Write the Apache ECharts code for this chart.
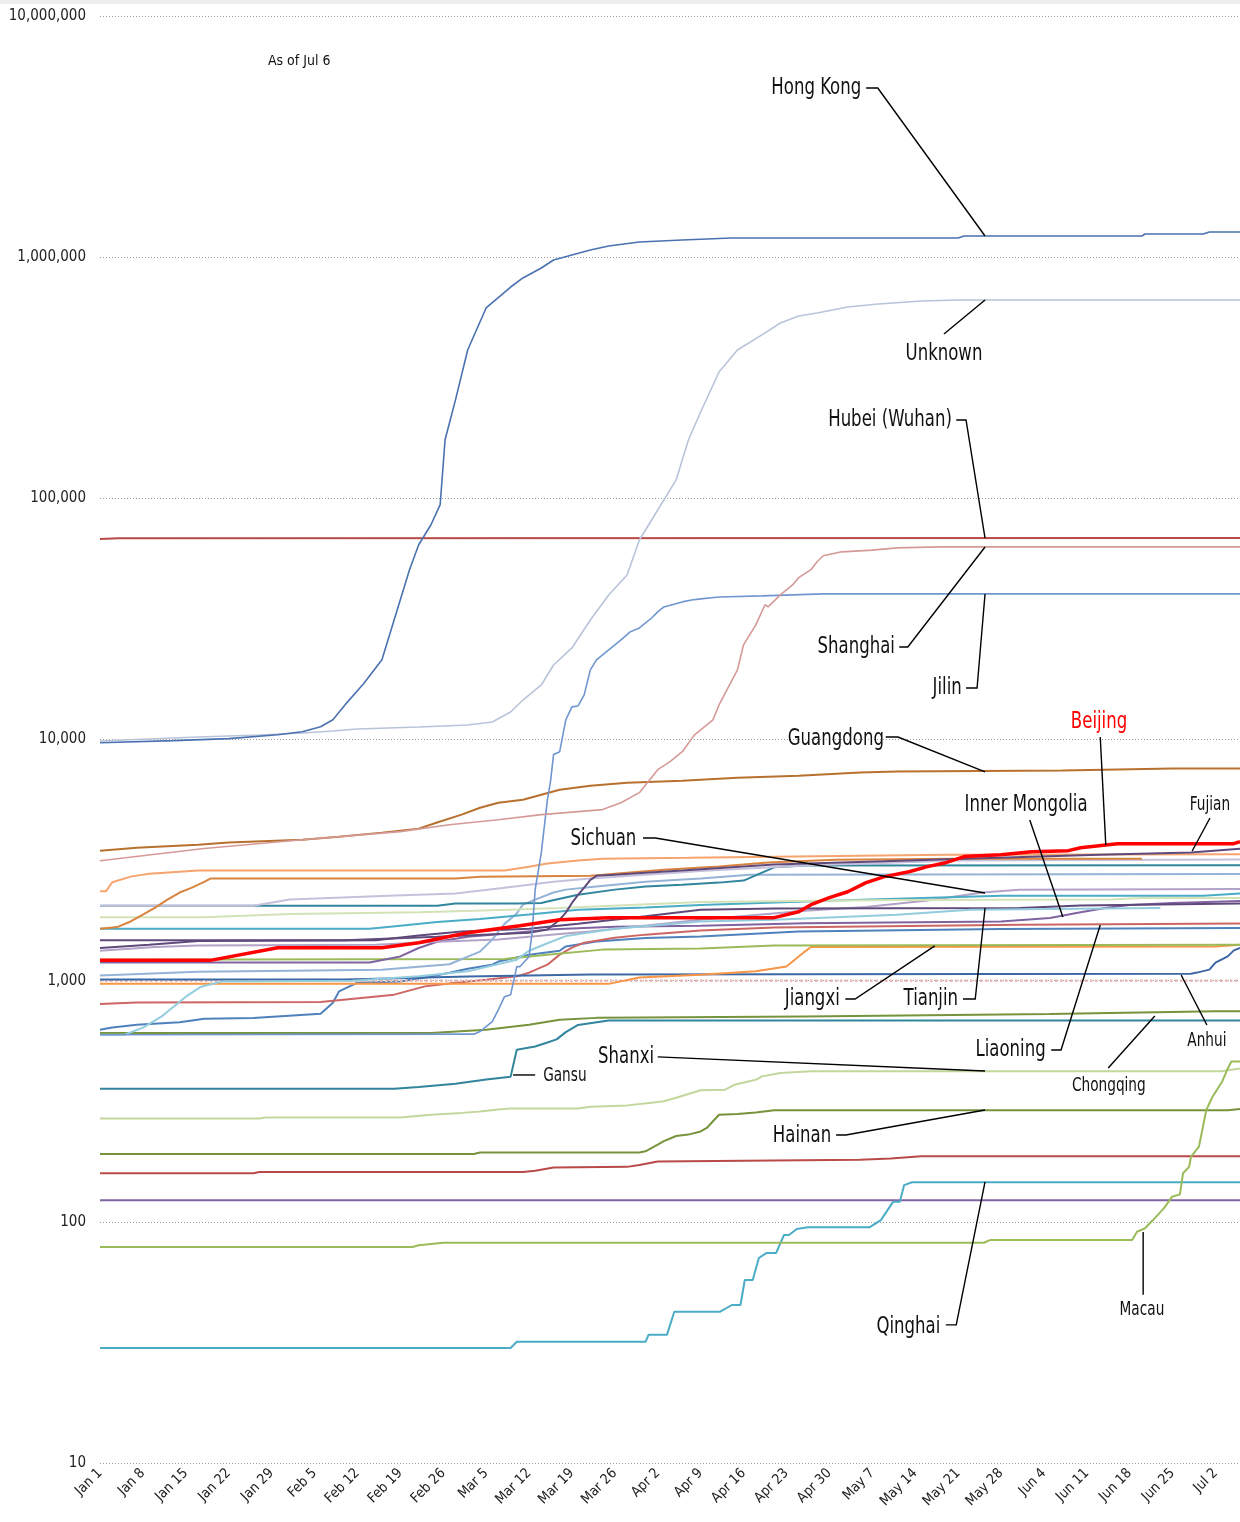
<!DOCTYPE html>
<html>
<head>
<meta charset="utf-8">
<script src="https://cdn.jsdelivr.net/npm/echarts@6/dist/echarts.min.js"></script>
<style>
html,body{margin:0;padding:0;background:#fff;}
#chart{width:1240px;height:1522px;}
</style>
</head>
<body>
<div id="chart"></div>
<script>
// ---- tick labels (x = day index from Jan 1) ----
const tickLabels = ['Jan 1','Jan 8','Jan 15','Jan 22','Jan 29','Feb 5','Feb 12','Feb 19','Feb 26','Mar 5','Mar 12','Mar 19','Mar 26','Apr 2','Apr 9','Apr 16','Apr 23','Apr 30','May 7','May 14','May 21','May 28','Jun 4','Jun 11','Jun 18','Jun 25','Jul 2'];
const lastDay = 186; // Jul 6

// ---- series values: [day, cumulative cases] ----
const hongKong = [[0,9700],[12,9890],[21,10080],[29,10470],[33,10770],[36,11300],[38,12080],[40,13950],[43,17030],[46,21420],[47.5,28520],[49,37970],[50.5,50580],[52,64200],[54,77700],[55.5,94100],[56.3,175000],[58,256000],[60,413000],[63,615600],[67,752000],[69,819800],[72,901700],[74,973400],[77,1021000],[80,1071000],[83,1113000],[88,1156000],[95,1178000],[103,1201000],[140,1201000],[141,1224000],[170,1224000],[170.5,1248000],[180,1248000],[181,1272000],[186,1272000]];
const unknown = [[0,9860],[16,10240],[26,10440],[33,10640],[38,10850],[42,11060],[52,11270],[60,11490],[64,11820],[67,13000],[69,14580],[72,16830],[74,20370],[77,23970],[80,31300],[83,39750],[86,48110],[88,67180],[91,89460],[94,119200],[96,174500],[98,228000],[101,334100],[104,412200],[108,475900],[111,533400],[114,570200],[117,586800],[122,621400],[127,639500],[134,658100],[140,664400],[186,664400]];
const hubei = [[0,67800],[3,68300],[186,68500]];
const shanghai = [[0,3140],[17,3530],[33,3842],[49,4150],[57,4430],[65,4650],[72,4880],[82,5120],[85,5470],[88,6020],[91,7500],[93,8090],[95,8900],[97,10450],[100,12060],[101,13910],[104,19440],[105,24700],[107,29870],[108.5,36200],[109,35500],[111,39770],[113,43750],[114,46900],[116,50600],[117,54600],[118,57800],[121,60000],[126,61000],[130,62300],[137,62900],[186,62900]];
const jilin = [[0,597],[61,600],[62,615],[64,676],[65,759],[66,858],[67,875],[68,1143],[68.5,1143],[70,1257],[70.5,1581],[71,2385],[72,3390],[73,5630],[73.5,6690],[74,8660],[75,8900],[76,12060],[77,13650],[78,13780],[79,15310],[80,19440],[81,21390],[82,22420],[83,23530],[85,25880],[86.5,27940],[88,29010],[90,31900],[91,33800],[92,35460],[95,37200],[96.5,37900],[98,38300],[101,39000],[108,39400],[118,40150],[186,40150]];
const guangdong = [[0,3460],[6,3560],[16,3663],[21,3740],[33,3842],[39,3950],[46,4110],[52,4270],[55,4530],[59,4880],[62,5210],[65,5470],[69,5627],[72,5900],[75,6190],[80,6430],[86,6620],[95,6750],[104,6940],[114,7080],[124,7290],[130,7360],[157,7430],[175,7580],[186,7580]];
const beijing = [[0,1214],[18,1214],[29,1370],[46,1370],[52,1437],[60,1581],[68.5,1690],[75,1790],[83,1825],[110,1825],[114,1930],[116,2066],[119,2210],[122,2337],[125,2550],[128,2700],[132,2830],[135,2970],[138,3085],[141,3270],[147,3330],[152,3425],[158,3460],[160,3560],[163,3630],[166,3700],[185,3700],[186,3770]];
const fujian = [[0,1470],[40,1470],[55,1520],[70,1580],[73,1630],[75,1790],[76,1915],[77,2100],[78,2270],[79,2430],[80,2620],[81,2720],[84,2750],[89,2800],[95,2860],[110,3030],[128,3130],[141,3200],[163,3330],[178,3400],[186,3520]];
const zhejiang = [[0,2350],[1,2350],[2,2560],[5,2700],[8,2775],[13,2830],[16,2860],[66,2860],[70,2970],[73,3060],[78,3150],[82,3200],[96,3230],[138,3330],[186,3340]];
const henan = [[0,1640],[2,1660],[3,1675],[5,1760],[7,1880],[9,2010],[11,2167],[13,2320],[15,2430],[17,2570],[18,2650],[58,2650],[62,2700],[80,2725],[82,2750],[92,2885],[101,2975],[109,3090],[120,3174],[139,3200],[170,3200]];
const shaanxi = [[0,2045],[25,2045],[31,2170],[47,2250],[58,2300],[66,2430],[74,2570],[80,2650],[98,2850],[115,3000],[140,3150],[186,3180]];
const shandong = [[0,2045],[55,2045],[58,2090],[68,2090],[72,2100],[73,2130],[78,2270],[84,2385],[89,2460],[95,2500],[101,2550],[105,2600],[110,2950],[115,3000],[186,3010]];
const hebei = [[0,1830],[17,1830],[31,1890],[52,1920],[64,1960],[75,2000],[98,2120],[130,2160],[165,2170],[170,2200],[186,2200]];
const jiangsu = [[0,1640],[44,1640],[49,1690],[55,1750],[62,1800],[70,1880],[78,1970],[89,2010],[98,2060],[120,2150],[147,2250],[180,2250],[186,2300]];
const yunnan = [[0,1050],[16,1090],[46,1110],[57,1170],[62,1320],[64,1480],[66,1720],[68,1900],[69,2066],[71,2167],[74,2320],[76,2385],[81,2460],[89,2570],[98,2650],[106,2750],[186,2770]];
const tianjin = [[0,597],[4,597],[7,639],[10,709],[12,780],[14,858],[16.5,944],[20,993],[41,1000],[52,1042],[60,1093],[68,1222],[70,1330],[73,1430],[76,1530],[84,1640],[98,1760],[110,1790],[130,1878],[142,1970],[173,2000]];
const heilongjiang = [[0,1365],[8,1410],[16,1460],[45,1470],[52,1540],[59,1600],[70,1640],[78,1720],[89,1850],[98,1970],[110,1990],[150,2000],[160,2050],[186,2090]];
const sichuan = [[0,1330],[9,1380],[16,1400],[45,1410],[55,1450],[65,1480],[75,1560],[80,1600],[98,1790],[115,1950],[125,2020],[135,2150],[144,2320],[150,2385],[186,2400]];
const innerMongolia = [[0,1190],[44,1190],[49,1260],[52,1366],[55,1450],[60,1520],[66,1565],[73,1628],[84,1675],[98,1690],[115,1730],[147,1760],[155,1820],[160,1920],[164,2000],[168,2060],[175,2100],[186,2140]];
const hunan = [[0,1222],[66,1230],[73,1282],[82,1345],[98,1360],[110,1400],[186,1410]];
const jiangxi = [[0,970],[83,970],[88,1030],[98,1059],[107,1093],[112,1145],[113,1201],[115,1320],[116,1380],[182,1387],[186,1410]];
const anhui = [[0,1010],[40,1010],[60,1040],[80,1060],[178,1068],[179,1080],[181,1111],[182,1187],[184,1261],[185,1335],[186,1366]];
const xinjiang = [[0,1000],[186,1000]];
const liaoning = [[0,800],[6,812],[36,815],[48,875],[53,947],[58,981],[63,1008],[68,1042],[70,1079],[73,1165],[75,1282],[77,1370],[79,1437],[84,1505],[89,1552],[98,1616],[110,1660],[150,1707],[186,1725]];
const guangxi = [[0,626],[2,640],[6,657],[13,672],[17,695],[25,700],[36,730],[38,810],[39,903],[42,981],[49,993],[54,1040],[57,1079],[60,1120],[64,1165],[65,1200],[70,1280],[75,1330],[76,1387],[81,1455],[89,1503],[98,1526],[114,1600],[147,1636],[186,1655]];
const chongqing = [[0,607],[54,607],[63,626],[70,657],[75,689],[81,701],[115,711],[155,728],[182,746],[186,746]];
const gansu = [[0,356],[48,356],[52,362],[58,374],[63,389],[67,400],[68,517],[71,533],[73,554],[74.5,571],[76,612],[78,655],[83,683],[186,683]];
const shanxi = [[0,268],[26,268],[27,271],[49,271],[54,278],[59,283],[62,287],[65,292],[67,295],[78,295],[80,300],[86,304],[90,312],[92,316],[94,327],[98,351],[102,353],[103.5,370],[107,388],[108,401],[111,414],[116,421],[183,421],[186,432]];
const hainan = [[0,191],[61,191],[62,194],[88,194],[89,196],[91,209],[92,216],[94,227],[96,230],[98,237],[99,245],[101,278],[104,280],[107,284],[110,290],[184,290],[186,294]];
const guizhou = [[0,159],[25,159],[26,161],[69,161],[71,163],[74,168],[86,169],[88,172],[91,178],[124,181],[129,183],[134,187],[186,187]];
const ningxia = [[0,123],[186,123]];
const qinghai = [[0,30],[67,30],[68,31.8],[89,31.8],[89.5,34],[92.5,34],[93.7,42.4],[101.2,42.4],[103.1,45.2],[104.5,45.2],[105.2,57.4],[106.5,57.4],[107.5,70.8],[108.7,74.2],[110.3,74.2],[111.6,88.2],[112.4,88.2],[113.7,93.4],[115.5,94.9],[125.6,95],[127.4,101.7],[129.4,121],[130.5,121],[131.2,142],[132.5,146],[186,146]];
const macau = [[0,78.6],[51,78.6],[52,80],[56,81.9],[144.2,81.9],[145.2,84],[168.4,84],[169.2,91],[170.5,94],[171.8,101.7],[173.6,114],[174.9,127],[176.2,130],[176.7,159],[177.7,169],[178,186],[179.3,205],[180.5,291],[181.4,326],[183.1,382],[183.9,427],[184.6,462],[186,462]];

// ---- styles (kept apart from the data) ----
const FONT = "'Liberation Sans Narrow','DejaVu Sans Condensed','Roboto Condensed','Arial Narrow',sans-serif";
const seriesDefs = [
  ['Ningxia', ningxia, '#8064a2', 2],
  ['Guizhou', guizhou, '#b94a48', 2],
  ['Hainan', hainan, '#77933c', 2],
  ['Shanxi', shanxi, '#c3d69b', 2],
  ['Qinghai', qinghai, '#4bacc6', 2],
  ['Macau', macau, '#9bbb59', 2],
  ['Gansu', gansu, '#31859c', 2],
  ['Chongqing', chongqing, '#77933c', 2],
  ['Guangxi', guangxi, '#4f81bd', 2],
  ['Liaoning', liaoning, '#cc6664', 2],
  ['Xinjiang', xinjiang, '#e6b9b8', 2.5, 'dotted'],
  ['Anhui', anhui, '#3d68a6', 2],
  ['Jiangxi', jiangxi, '#f79646', 2],
  ['Hunan', hunan, '#9bbb59', 2],
  ['Inner Mongolia', innerMongolia, '#8064a2', 2],
  ['Sichuan', sichuan, '#b3a2c7', 2],
  ['Heilongjiang', heilongjiang, '#5f497a', 2],
  ['Tianjin', tianjin, '#93cddd', 2],
  ['Yunnan', yunnan, '#95b3d7', 2],
  ['Jiangsu', jiangsu, '#4bacc6', 2],
  ['Hebei', hebei, '#d4e2b8', 2],
  ['Shandong', shandong, '#31859c', 2],
  ['Shaanxi', shaanxi, '#c5c0dc', 2],
  ['Henan', henan, '#d9843e', 2],
  ['Zhejiang', zhejiang, '#f6a46e', 2],
  ['Fujian', fujian, '#604a7b', 2],
  ['Guangdong', guangdong, '#b8702f', 2],
  ['Jilin', jilin, '#7096cf', 1.6],
  ['Shanghai', shanghai, '#d59a97', 1.6],
  ['Hubei (Wuhan)', hubei, '#b94a48', 2],
  ['Unknown', unknown, '#b9c3d9', 1.6],
  ['Hong Kong', hongKong, '#4a72b0', 1.6],
  ['Beijing', beijing, '#ff0000', 3.5]
];

// annotation layout: text anchor and leader line, in chart data space [day, cases]
const annotations = [
  {t:'Hong Kong', at:[124.2,5030000], a:'right', s:23, leader:[[125.0,5030000],[126.9,5030000],[144.4,1224000]]},
  {t:'Unknown', at:[137.7,396800], a:'center', s:23, leader:[[137.7,480000],[144.4,664000]]},
  {t:'Hubei (Wuhan)', at:[139.0,211300], a:'right', s:23, leader:[[139.7,211300],[141.3,211300],[144.4,68460]]},
  {t:'Shanghai', at:[129.7,24180], a:'right', s:23, leader:[[130.4,24180],[131.8,24180],[144.4,62850]]},
  {t:'Jilin', at:[140.6,16350], a:'right', s:23, leader:[[141.3,16350],[143.1,16350],[144.4,40120]]},
  {t:'Guangdong', at:[127.9,10050], a:'right', s:23, leader:[[128.2,10240],[130.2,10240],[144.4,7334]]},
  {t:'Beijing', at:[163.0,11820], a:'center', s:23, c:'#ff0000', leader:[[163.2,10240],[164.1,3652]]},
  {t:'Inner Mongolia', at:[151.1,5351], a:'center', s:23, leader:[[151.7,4637],[157.1,1837]]},
  {t:'Fujian', at:[181.1,5351], a:'center', s:19, leader:[[181.1,4726],[178.2,3450]]},
  {t:'Sichuan', at:[87.5,3868], a:'right', s:23, leader:[[88.6,3905],[90.6,3905],[144.4,2310]]},
  {t:'Jiangxi', at:[120.7,839.7], a:'right', s:23, leader:[[121.6,839.7],[123.2,839.7],[136.2,1393]]},
  {t:'Tianjin', at:[140.0,839.7], a:'right', s:23, leader:[[140.8,839.7],[142.8,839.7],[144.4,2002]]},
  {t:'Anhui', at:[180.6,562], a:'center', s:19, leader:[[180.6,655],[176.4,1056]]},
  {t:'Liaoning', at:[154.3,516], a:'right', s:23, leader:[[155.2,516],[156.8,516],[163.2,1702]]},
  {t:'Chongqing', at:[164.6,366], a:'center', s:19, leader:[[164.5,434.5],[172.1,714]]},
  {t:'Shanxi', at:[90.4,483], a:'right', s:23, leader:[[91.0,483],[144.4,422.4]]},
  {t:'Gansu', at:[72.3,402.6], a:'left', s:19, leader:[[67.4,406.4],[71.0,406.4]]},
  {t:'Hainan', at:[119.3,227], a:'right', s:23, leader:[[120.1,229],[121.7,229],[144.4,291]]},
  {t:'Qinghai', at:[137.1,36.6], a:'right', s:23, leader:[[138.0,37.4],[139.7,37.4],[144.4,146.3]]},
  {t:'Macau', at:[170.0,43.1], a:'center', s:19, leader:[[170.2,49.8],[170.2,90.8]]},
  {t:'As of Jul 6', at:[32.5,6508000], a:'center', s:14, sx:1}
];

const chart = echarts.init(document.getElementById('chart'), null, {renderer:'canvas'});
const option = {
  animation:false,
  backgroundColor:'#ffffff',
  grid:{left:100, right:0, top:16, bottom:59, containLabel:false},
  xAxis:{
    type:'value', min:0, max:lastDay, interval:7,
    axisLine:{show:false}, axisTick:{show:false}, splitLine:{show:false},
    axisLabel:{
      rotate:45, fontSize:14, color:'#222', fontFamily:FONT, margin:8, showMaxLabel:false,
      formatter:function(v){ const i=Math.round(v/7); return (v%7===0 && tickLabels[i]) ? tickLabels[i] : ''; }
    }
  },
  yAxis:{
    type:'log', logBase:10, min:10, max:10000000,
    axisLine:{show:false}, axisTick:{show:false},
    splitLine:{show:true, lineStyle:{color:'#9c9c9c', type:[1,2], width:1}},
    axisLabel:{fontSize:15, color:'#222', fontFamily:FONT, margin:14,
      formatter:function(v){ return Math.round(v).toLocaleString('en-US'); }}
  },
  series: seriesDefs.map(function(d){
    return {
      name:d[0], type:'line', data:d[1], showSymbol:false, symbol:'none',
      lineStyle:{color:d[2], width:d[3], type:d[4]||'solid'},
      z: d[0]==='Beijing' ? 5 : 2,
      silent:true
    };
  })
};
chart.setOption(option);

// leader lines and labels, positioned through the chart's own scales
const px = p => chart.convertToPixel({xAxisIndex:0, yAxisIndex:0}, p);
const graphics = [{type:'rect', shape:{x:0,y:0,width:1240,height:4}, style:{fill:'#eeeeee'}, z:0}];
annotations.forEach(function(an){
  if (an.leader){
    graphics.push({type:'polyline', shape:{points:an.leader.map(px)}, style:{stroke:'#000', lineWidth:1.4, fill:null}, z:10});
  }
  const p = px(an.at);
  graphics.push({type:'text', x:p[0], y:p[1], scaleX:(an.sx||0.8), scaleY:1, z:11,
    style:{text:an.t, fill:an.c||'#111', font: an.s+'px '+FONT, align:an.a, verticalAlign:'middle'}});
});
chart.setOption({graphic:graphics});
</script>
</body>
</html>
